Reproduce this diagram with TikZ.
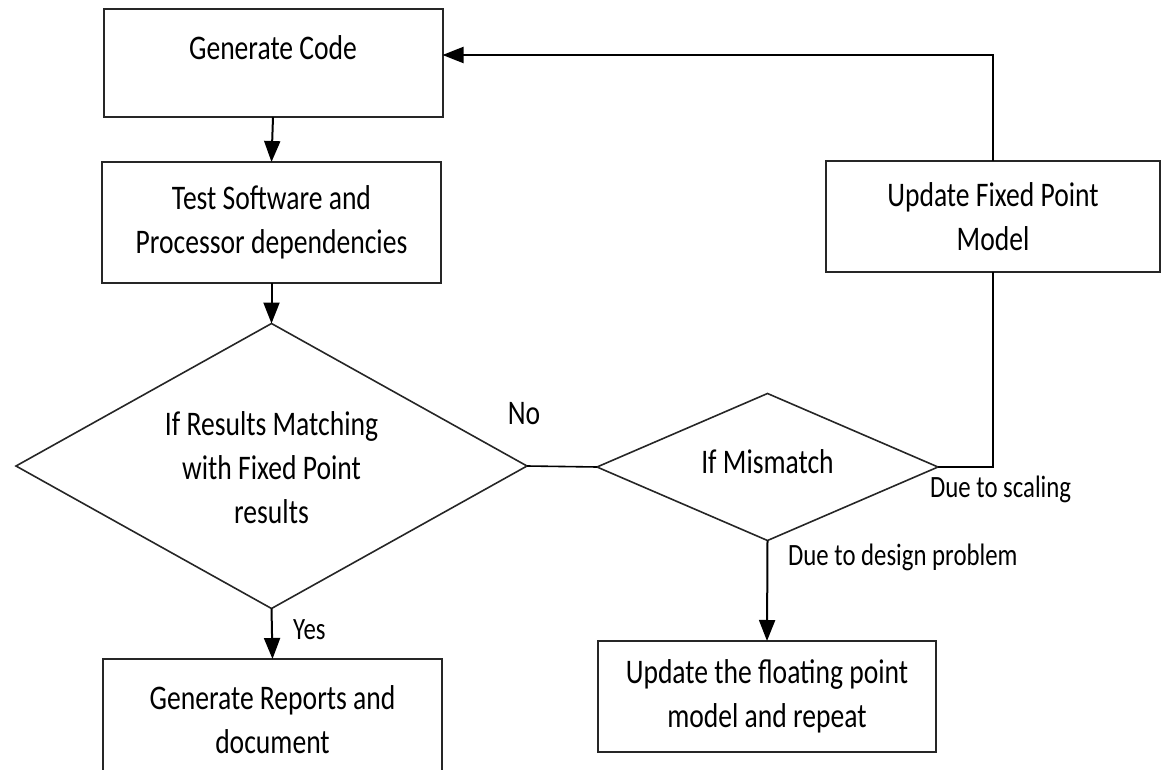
\documentclass[tikz,border=0pt]{standalone}
\usepackage{fontspec}
\setmainfont{Carlito}[FakeStretch=0.8]
\usetikzlibrary{shapes.geometric,arrows.meta}

\tikzset{
  box/.style={draw=black!85, line width=2pt, rectangle, inner sep=0pt, outer sep=0pt},
  decision/.style={draw=black!85, line width=1.6pt, diamond, inner sep=0pt, outer sep=0pt},
  maintext/.style={font=\fontsize{34.5}{44}\selectfont, align=center, inner sep=0pt},
  smalltext/.style={font=\fontsize{31}{36}\selectfont, inner sep=0pt},
  flow/.style={line width=2pt, draw=black},
  flowarrow/.style={flow, -{Triangle[length=21pt,width=16pt]}},
}

\begin{document}
\begin{tikzpicture}[x=1pt,y=-1pt]
  \useasboundingbox (0,0) rectangle (1164,770);
  \clip (0,0) rectangle (1164,770);

  % process boxes
  \node[box, minimum width=339pt, minimum height=108pt] (gen) at (273,63) {};
  \node[maintext] (gentxt) at (273,48) {Generate Code};

  \node[box, minimum width=339pt, minimum height=121pt, maintext] (test) at (271.5,222.5)
    {Test Software and\\Processor dependencies};

  \node[box, minimum width=339pt, minimum height=122pt, maintext] (rep) at (272.5,720)
    {Generate Reports and\\document};

  \node[box, minimum width=334pt, minimum height=111pt, maintext] (upd) at (993,216.5)
    {Update Fixed Point\\Model};

  \node[box, minimum width=338pt, minimum height=111pt, maintext] (flt) at (767,696.5)
    {Update the floating point\\model and repeat};

  % decisions
  \node[decision, minimum width=511pt, minimum height=285pt] (dec) at (271.5,466) {};
  \node[maintext] (dectxt) at (271.5,468) {If Results Matching\\with Fixed Point\\results};

  \node[decision, minimum width=341pt, minimum height=147pt] (mis) at (767.5,467) {};
  \node[maintext] (mistxt) at (767.5,462) {If Mismatch};

  % connectors
  \coordinate (looplevel) at (993,55);
  \draw[flowarrow] (gen.south) -- (test.north);
  \draw[flowarrow] (test.south) -- (dec.north);
  \draw[flowarrow] (dec.south) -- (rep.north);
  \draw[flow, line width=1.6pt] (dec.east) -- (mis.west);
  \draw[flow, line width=1.6pt] (mis.east) -| (upd.south);
  \draw[flowarrow] (upd.north) -- (looplevel) -- (gen.east |- looplevel);
  \draw[flowarrow] (mis.south) -- (flt.north);

  % branch labels
  \node[maintext] (nolbl) at (524,414) {No};
  \node[smalltext, anchor=west] (yeslbl) at (293,630) {Yes};
  \node[smalltext, anchor=west] (scalelbl) at (930,489) {Due to scaling};
  \node[smalltext, anchor=west] (designlbl) at (788,557) {Due to design problem};
\end{tikzpicture}
\end{document}
